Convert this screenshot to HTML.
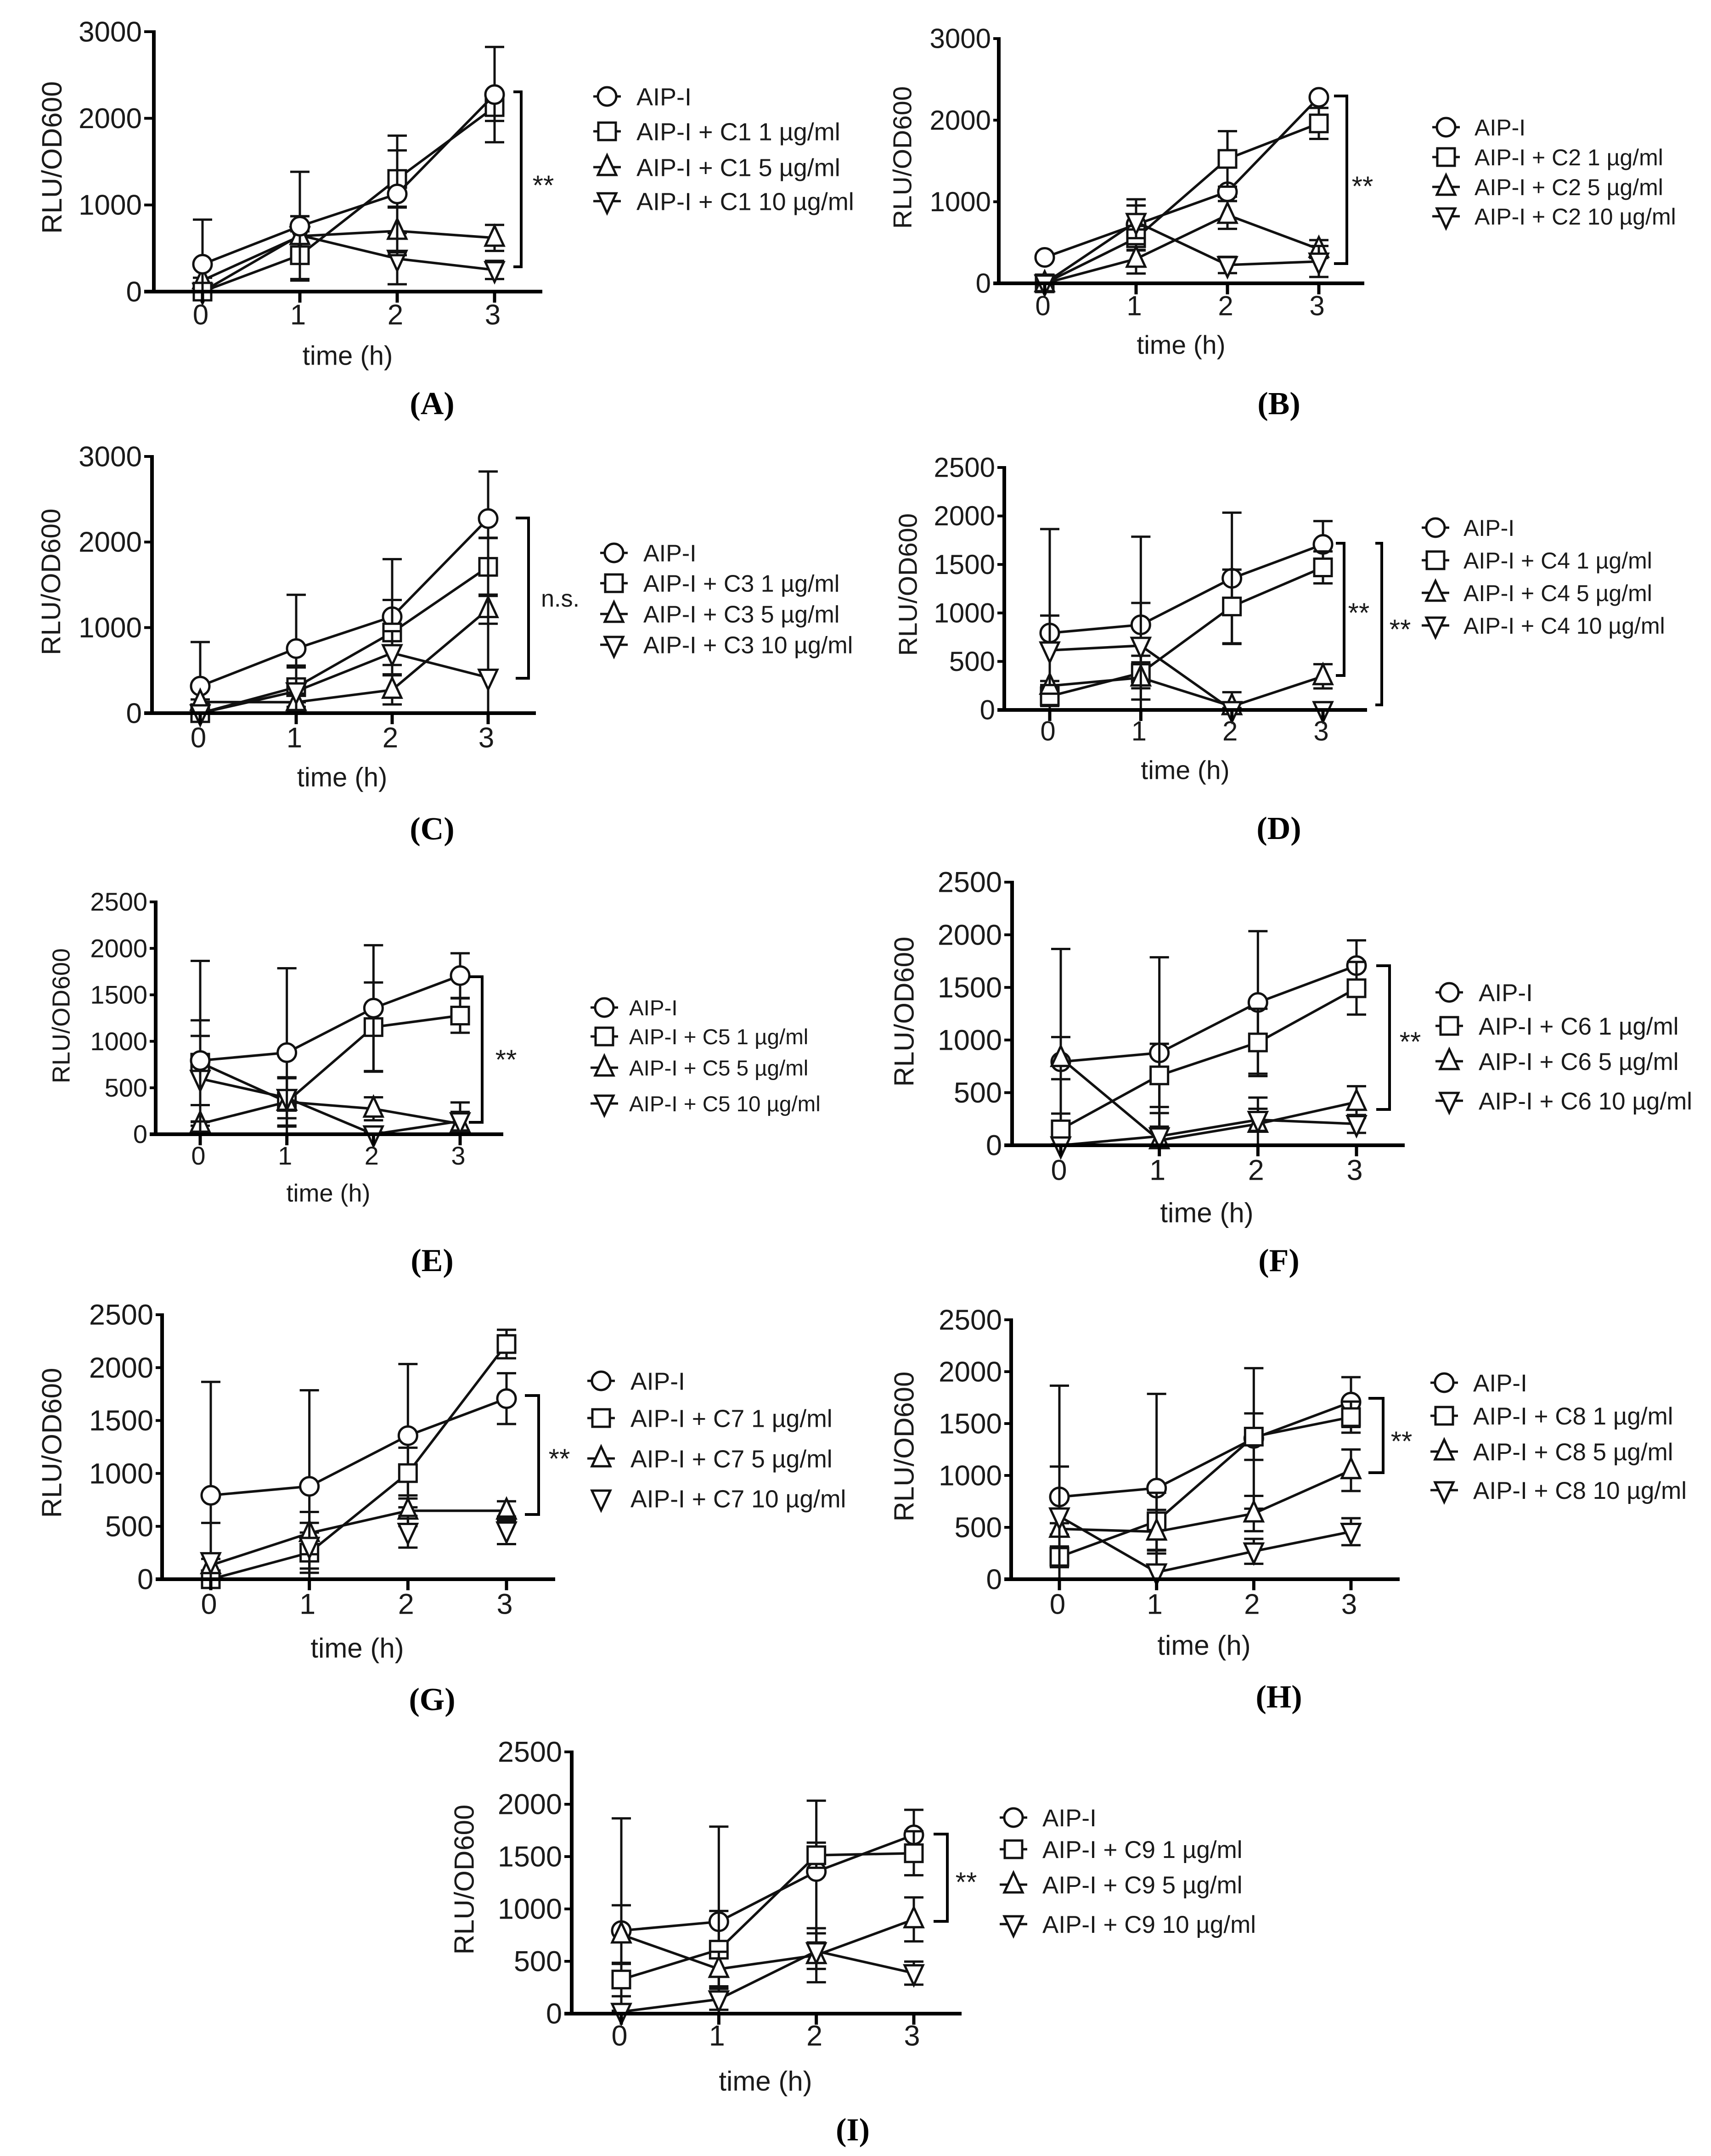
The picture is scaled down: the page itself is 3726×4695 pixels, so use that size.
<!DOCTYPE html>
<html lang="en">
<head>
<meta charset="utf-8">
<title>RLU/OD600 time courses, panels A to I</title>
<style>
html,body{margin:0;padding:0;background:#fff;}
svg{display:block;}
text{font-family:"Liberation Sans",sans-serif;fill:#1a1a1a;}
text.cap{font-family:"Liberation Serif",serif;font-weight:bold;fill:#000;}
</style>
</head>
<body>
<svg id="figure" xmlns="http://www.w3.org/2000/svg" width="3726" height="4695" viewBox="0 0 3726 4695"></svg>
<script>
const timePoints=[0,1,2,3];
const timeLabels=['0','1','2','3'];
const ticks3000=[0,1000,2000,3000];
const ticks2500=[0,500,1000,1500,2000,2500];

const a_aip=[316,755,1127,2274];
const a_aip_err=[515,628,673,550];
const a_low=[0,420,1300,2130];
const a_low_err=[0,275,330,160];
const a_mid=[130,640,700,620];
const a_mid_err=[30,230,280,150];
const a_high=[0,650,380,250];
const a_high_err=[0,220,295,105];
const a_legend=['AIP-I','AIP-I + C1 1 µg/ml','AIP-I + C1 5 µg/ml','AIP-I + C1 10 µg/ml'];

const b_aip=[318,720,1122,2280];
const b_aip_err=[20,310,60,20];
const b_low=[0,553,1525,1960];
const b_low_err=[0,150,340,190];
const b_mid=[0,300,838,420];
const b_mid_err=[0,180,170,110];
const b_high=[0,754,225,268];
const b_high_err=[0,200,100,190];
const b_legend=['AIP-I','AIP-I + C2 1 µg/ml','AIP-I + C2 5 µg/ml','AIP-I + C2 10 µg/ml'];

const c_aip=[316,755,1127,2274];
const c_aip_err=[515,628,673,550];
const c_low=[0,304,943,1710];
const c_low_err=[0,230,380,340];
const c_mid=[130,128,272,1215];
const c_mid_err=[30,100,170,170];
const c_high=[0,256,703,416];
const c_high_err=[0,300,255,1630];
const c_legend=['AIP-I','AIP-I + C3 1 µg/ml','AIP-I + C3 5 µg/ml','AIP-I + C3 10 µg/ml'];

const d_aip=[793,878,1357,1707];
const d_aip_err=[1072,908,677,240];
const d_low=[141,381,1067,1470];
const d_low_err=[100,110,380,165];
const d_mid=[248,333,37,347];
const d_mid_err=[50,226,146,125];
const d_high=[615,663,0,0];
const d_high_err=[358,440,20,0];
const d_legend=['AIP-I','AIP-I + C4 1 µg/ml','AIP-I + C4 5 µg/ml','AIP-I + C4 10 µg/ml'];

const e_aip=[793,878,1357,1707];
const e_aip_err=[1072,908,677,240];
const e_low=[770,348,1153,1277];
const e_low_err=[456,255,480,185];
const e_mid=[112,348,274,112];
const e_mid_err=[20,265,124,230];
const e_high=[598,392,0,141];
const e_high_err=[460,220,20,100];
const e_legend=['AIP-I','AIP-I + C5 1 µg/ml','AIP-I + C5 5 µg/ml','AIP-I + C5 10 µg/ml'];

const f_aip=[793,878,1357,1707];
const f_aip_err=[1072,908,677,240];
const f_low=[151,664,977,1492];
const f_low_err=[150,300,320,250];
const f_mid=[828,47,203,411];
const f_mid_err=[200,130,250,150];
const f_high=[0,86,242,203];
const f_high_err=[10,220,105,85];
const f_legend=['AIP-I','AIP-I + C6 1 µg/ml','AIP-I + C6 5 µg/ml','AIP-I + C6 10 µg/ml'];

const g_aip=[793,878,1357,1707];
const g_aip_err=[1072,908,677,240];
const g_low=[0,251,1003,2223];
const g_low_err=[0,190,240,135];
const g_mid=[132,436,647,647];
const g_mid_err=[60,200,145,90];
const g_high=[172,317,449,462];
const g_high_err=[360,216,150,130];
const g_legend=['AIP-I','AIP-I + C7 1 µg/ml','AIP-I + C7 5 µg/ml','AIP-I + C7 10 µg/ml'];

const h_aip=[793,878,1357,1707];
const h_aip_err=[1072,908,677,240];
const h_low=[216,558,1374,1562];
const h_low_err=[100,275,224,150];
const h_mid=[485,458,633,1050];
const h_mid_err=[55,210,170,200];
const h_high=[606,67,269,458];
const h_high_err=[480,210,120,130];
const h_legend=['AIP-I','AIP-I + C8 1 µg/ml','AIP-I + C8 5 µg/ml','AIP-I + C8 10 µg/ml'];

const i_aip=[793,878,1357,1707];
const i_aip_err=[1072,908,677,240];
const i_low=[326,611,1513,1532];
const i_low_err=[160,370,120,210];
const i_mid=[755,426,558,900];
const i_mid_err=[280,165,258,210];
const i_high=[18,137,597,387];
const i_high_err=[10,100,170,110];
const i_legend=['AIP-I','AIP-I + C9 1 µg/ml','AIP-I + C9 5 µg/ml','AIP-I + C9 10 µg/ml'];

const seriesKeys=['circle','square','triangle','inverted-triangle'];

const PANELS=[
 {id:'a',caption:'(A)',ymax:3000,ticks:ticks3000,ax:335,top:69,y0:635,x0:441,x3:1077,right:1181,left:314,
  series:[[a_aip,a_aip_err],[a_low,a_low_err],[a_mid,a_mid_err],[a_high,a_high_err]],order:[3,2,1,0],
  legend:a_legend,lm:1328,lt:1392,ly:[213,289,367,441],lf:54,tf:62,
  title:[112,343,61],xl:692,time:[761,781,58],cap:[944,888],
  brackets:[{x:1135,t:200,b:581,tick:1118,label:'**',lx:1187,ly:400}]},
 {id:'b',caption:'(B)',ymax:3000,ticks:ticks3000,ax:2175,top:84,y0:617,x0:2275,x3:2872,right:2971,left:2163,
  series:[[b_aip,b_aip_err],[b_low,b_low_err],[b_mid,b_mid_err],[b_high,b_high_err]],
  legend:b_legend,lm:3155,lt:3217,ly:[280,345,410,474],lf:50,tf:60,
  title:[1964,343,57],xl:673,time:[2576,757,57],cap:[2788,888],
  brackets:[{x:2933,t:209,b:574,tick:2905,label:'**',lx:2971,ly:402}]},
 {id:'c',caption:'(C)',ymax:3000,ticks:ticks3000,ax:331,top:994,y0:1553,x0:436,x3:1063,right:1167,left:314,
  series:[[c_aip,c_aip_err],[c_low,c_low_err],[c_mid,c_mid_err],[c_high,c_high_err]],
  legend:c_legend,lm:1343,lt:1407,ly:[1207,1273,1340,1407],lf:52,tf:62,
  title:[110,1267,58.6],xl:1613,time:[749,1699,58],cap:[944,1814],
  brackets:[{x:1151,t:1128,b:1477,tick:1123,label:'n.s.',lx:1224,ly:1309}]},
 {id:'d',caption:'(D)',ymax:2500,ticks:ticks2500,ax:2187,top:1018,y0:1546,x0:2286,x3:2881,right:2977,left:2172,
  series:[[d_aip,d_aip_err],[d_low,d_low_err],[d_mid,d_mid_err],[d_high,d_high_err]],
  legend:d_legend,lm:3132,lt:3193,ly:[1152,1223,1294,1365],lf:50,tf:60,
  title:[1976,1273,57],xl:1599,time:[2585,1683,57],cap:[2788,1813],
  brackets:[{x:2927,t:1183,b:1471,tick:2909,label:'**',lx:2963,ly:1331},{x:3009,t:1183,b:1535,tick:2995,label:'**',lx:3053,ly:1367}]},
 {id:'e',caption:'(E)',ymax:2500,ticks:ticks2500,ax:339,top:1964,y0:2470,x0:436,x3:1002,right:1096,left:326,
  series:[[e_aip,e_aip_err],[e_low,e_low_err],[e_mid,e_mid_err],[e_high,e_high_err]],order:[1,2,3,0],
  legend:e_legend,lm:1322,lt:1376,ly:[2197,2260,2328,2406],lf:47.5,tf:56,
  title:[132,2212,54],xl:2524,time:[719,2604,54],cap:[944,2754],
  brackets:[{x:1050,t:2127,b:2444,tick:1021,label:'**',lx:1106,ly:2304}]},
 {id:'f',caption:'(F)',ymax:2500,ticks:ticks2500,ax:2204,top:1921,y0:2494,x0:2310,x3:2954,right:3059,left:2187,
  series:[[f_aip,f_aip_err],[f_low,f_low_err],[f_mid,f_mid_err],[f_high,f_high_err]],
  legend:f_legend,lm:3162,lt:3226,ly:[2164,2237,2314,2400],lf:53,tf:63,
  title:[1968,2203,60],xl:2555,time:[2632,2647,60],cap:[2788,2754],
  brackets:[{x:3026,t:2103,b:2416,tick:2997,label:'**',lx:3075,ly:2265}]},
 {id:'g',caption:'(G)',ymax:2500,ticks:ticks2500,ax:353,top:2863,y0:3439,x0:459,x3:1103,right:1209,left:339,
  series:[[g_aip,g_aip_err],[g_low,g_low_err],[g_mid,g_mid_err],[g_high,g_high_err]],noLine:[3],
  legend:g_legend,lm:1315,lt:1379,ly:[3010,3091,3179,3266],lf:53.5,tf:63,
  title:[112,3142,60],xl:3500,time:[782,3595,60],cap:[944,3710],
  brackets:[{x:1173,t:3039,b:3298,tick:1143,label:'**',lx:1222,ly:3173}]},
 {id:'h',caption:'(H)',ymax:2500,ticks:ticks2500,ax:2202,top:2874,y0:3439,x0:2307,x3:2942,right:3048,left:2187,
  series:[[h_aip,h_aip_err],[h_low,h_low_err],[h_mid,h_mid_err],[h_high,h_high_err]],
  legend:h_legend,lm:3151,lt:3214,ly:[3014,3086,3164,3248],lf:53,tf:62,
  title:[1968,3150,60],xl:3500,time:[2626,3589,60],cap:[2788,3704],
  brackets:[{x:3012,t:3045,b:3207,tick:2980,label:'**',lx:3056,ly:3135}]},
 {id:'i',caption:'(I)',ymax:2500,ticks:ticks2500,ax:1245,top:3815,y0:4385,x0:1353,x3:1990,right:2094,left:1229,
  series:[[i_aip,i_aip_err],[i_low,i_low_err],[i_mid,i_mid_err],[i_high,i_high_err]],
  legend:i_legend,lm:2213,lt:2276,ly:[3961,4030,4107,4193],lf:53,tf:63,
  title:[1010,4093,60],xl:4440,time:[1671,4538,60],cap:[1860,4647],
  brackets:[{x:2063,t:3994,b:4184,tick:2033,label:'**',lx:2108,ly:4095}]}
];

const NS='http://www.w3.org/2000/svg';
const INK='#111';

function make(tag,attrs,parent){
  const el=document.createElementNS(NS,tag);
  for(const k in attrs){el.setAttribute(k,attrs[k]);}
  parent.appendChild(el);
  return el;
}

function drawMarker(kind,cx,cy,parent){
  const style={fill:'#fff',stroke:INK,'stroke-width':5,'stroke-linejoin':'miter'};
  let el;
  if(kind==='circle'){
    el=make('circle',Object.assign({cx:cx,cy:cy,r:20},style),parent);
  }else if(kind==='square'){
    el=make('rect',Object.assign({x:cx-19,y:cy-19,width:38,height:38},style),parent);
  }else if(kind==='triangle'){
    el=make('polygon',Object.assign({points:(cx)+','+(cy-26)+' '+(cx+20)+','+(cy+17)+' '+(cx-20)+','+(cy+17)},style),parent);
  }else{
    el=make('polygon',Object.assign({points:(cx)+','+(cy+26)+' '+(cx+20)+','+(cy-17)+' '+(cx-20)+','+(cy-17)},style),parent);
  }
  
  
  return el;
}

const svg=document.getElementById('figure');

PANELS.forEach(function(p){
  const xScale=function(t){return p.x0+(p.x3-p.x0)*t/3;};
  const yScale=function(v){return p.y0-(p.y0-p.top)*v/p.ymax;};
  const panel=make('g',{},svg);
  
  

  const order=p.order||[0,1,2,3];
  order.forEach(function(idx){
    const means=p.series[idx][0];
    const errs=p.series[idx][1];
    const group=make('g',{},panel);
    
    
    if(!(p.noLine&&p.noLine.indexOf(idx)>=0)){
      const pts=timePoints.map(function(t,i){return xScale(t)+','+yScale(means[i]);}).join(' ');
      const line=make('polyline',{points:pts,fill:'none',stroke:INK,'stroke-width':5.5},group);
      
      
    }
    timePoints.forEach(function(t,i){
      const e=errs[i];
      const hi=yScale(means[i]+e);
      const lo=yScale(Math.max(0,means[i]-e));
      const x=xScale(t);
      const bar=make('path',{d:'M'+x+' '+hi+'V'+lo+'M'+(x-21)+' '+hi+'H'+(x+21)+'M'+(x-21)+' '+lo+'H'+(x+21),fill:'none',stroke:INK,'stroke-width':5},group);
      
      
    });
    timePoints.forEach(function(t,i){
      drawMarker(seriesKeys[idx],xScale(t),yScale(means[i]),group);
    });
  });

  const yAxis=make('line',{x1:p.ax,x2:p.ax,y1:p.top-3,y2:p.y0+3,stroke:'#000','stroke-width':8},panel);
  
  
  const xAxis=make('line',{x1:p.left,x2:p.right,y1:p.y0,y2:p.y0,stroke:'#000','stroke-width':8},panel);
  
  

  p.ticks.forEach(function(v){
    const y=yScale(v);
    const tick=make('line',{x1:p.left,x2:p.ax,y1:y,y2:y,stroke:'#000','stroke-width':6},panel);
    
    
    const label=make('text',{x:p.left-5,y:y+p.tf*0.36-1,'text-anchor':'end','font-size':p.tf},panel);
    label.textContent=String(v);
    
    
  });
  timePoints.forEach(function(t,i){
    const x=xScale(t);
    const tick=make('line',{x1:x,x2:x,y1:p.y0,y2:p.y0+24,stroke:'#000','stroke-width':7},panel);
    
    
    const label=make('text',{x:x-4,y:p.xl+p.tf*0.36-8,'text-anchor':'middle','font-size':p.tf},panel);
    label.textContent=timeLabels[i];
    
    
  });

  const yTitle=make('text',{transform:'translate('+p.title[0]+','+p.title[1]+') rotate(-90)',y:p.title[2]*0.36,'text-anchor':'middle','font-size':p.title[2]},panel);
  yTitle.textContent='RLU/OD600';
  
  
  const xTitle=make('text',{x:p.time[0]-4,y:p.time[1]+p.time[2]*0.34-6,'text-anchor':'middle','font-size':p.time[2]},panel);
  xTitle.textContent='time (h)';
  
  

  p.brackets.forEach(function(b){
    const br=make('polyline',{points:b.tick+','+b.t+' '+b.x+','+b.t+' '+b.x+','+b.b+' '+b.tick+','+b.b,fill:'none',stroke:'#000','stroke-width':6},panel);
    
    
    const stars=b.label==='**';
    const txt=make('text',{x:b.lx-4,y:(stars?b.ly+30:b.ly+18)-6,'text-anchor':'middle','font-size':stars?60:52},panel);
    txt.textContent=b.label;
    
    
  });

  const legend=make('g',{},panel);
  
  
  p.legend.forEach(function(name,i){
    const ly=p.ly[i]-3;
    const entry=make('g',{},legend);
    
    
    const noLine=p.noLine&&p.noLine.indexOf(i)>=0;
    if(!noLine){
      const sw=make('line',{x1:p.lm-36,x2:p.lm+24,y1:ly,y2:ly,stroke:INK,'stroke-width':5},entry);
      
      
    }
    drawMarker(seriesKeys[i],p.lm-6,ly,entry);
    const label=make('text',{x:p.lt-6,y:ly+p.lf*0.36,'font-size':p.lf},entry);
    label.textContent=name;
    
    
  });

  const cap=make('text',{x:p.cap[0]-3,y:p.cap[1]+14,'text-anchor':'middle','font-size':70,'class':'cap'},panel);
  cap.textContent=p.caption;
  
  
});
</script>
</body>
</html>
